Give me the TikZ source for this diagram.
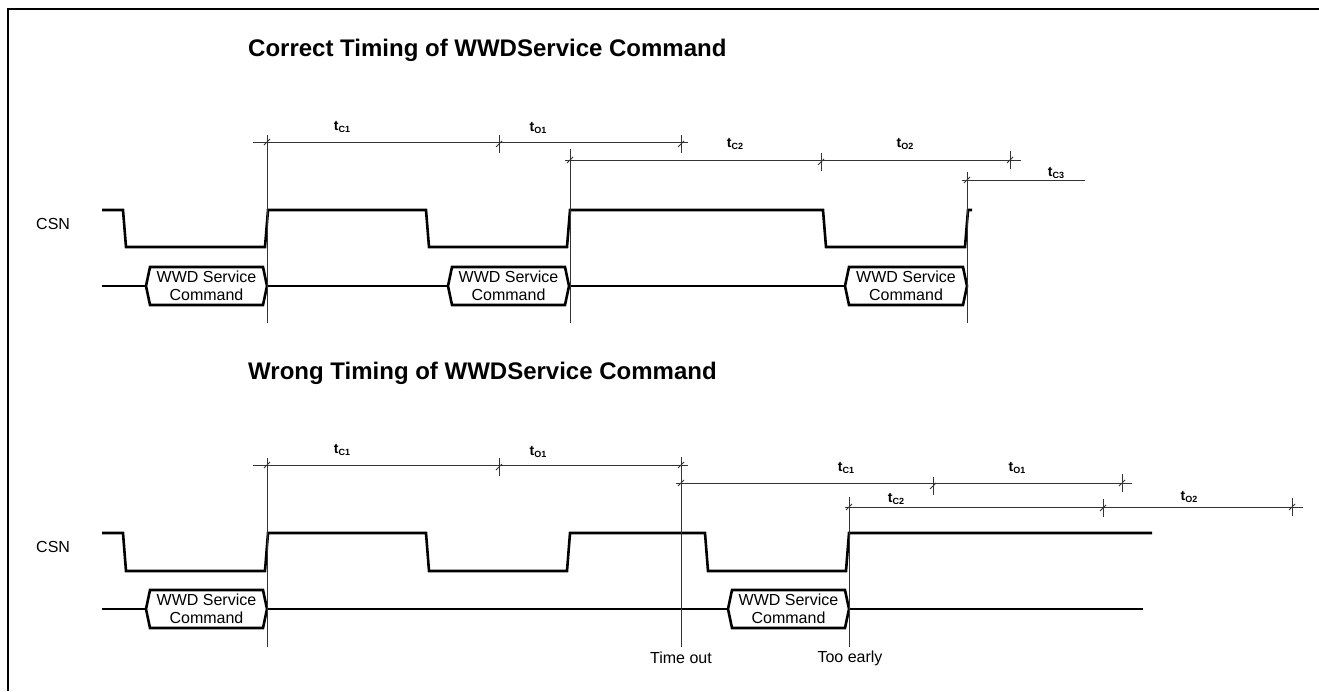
\documentclass[tikz,border=0pt]{standalone}
\usepackage{fontspec}
\setmainfont{Liberation Sans}
\newcommand\tlab[1]{t\raisebox{-0.3ex}{\fontsize{9}{9}\selectfont\bfseries #1}}
\begin{document}
\begin{tikzpicture}[x=1pt,y=-1pt,
  sig/.style={line width=2.6pt,line join=miter,black},
  thin/.style={line width=0.8pt,black!80},
  frame/.style={line width=1.2pt,black},
  lab/.style={inner sep=0pt,font=\fontsize{14}{15}\selectfont\bfseries},
  txt/.style={inner sep=0pt,font=\fontsize{16}{18}\selectfont},
  ttl/.style={inner sep=0pt,anchor=west,font=\fontsize{24}{26}\selectfont\bfseries},
  boxtxt/.style={inner sep=0pt,align=center,font=\fontsize{16}{18}\selectfont},
  slashmk/.pic={\draw[thin] (-3,3) -- (3,-3);},
  vtickmk/.pic={\draw[thin] (0,-9) -- (0,9); \draw[thin] (-3,3) -- (3,-3);}
]
\useasboundingbox (0,0) rectangle (1319,691);
% frame
\draw[frame] (8,691) -- (8,9) -- (1319,9);

% ================= Correct timing =================
\node[ttl] (title1) at (248,50) {Correct Timing of WWDService Command};
\node[txt,anchor=west] (csn1) at (36,224) {CSN};

% CSN waveform
\draw[sig] (102,210) -- (123,210) -- (126,247) -- (265,247) -- (268,210) -- (426,210) -- (429,247) -- (567,247) -- (570,210) -- (823,210) -- (826,247) -- (965,247) -- (968,210) -- (972,210);

% bus with command boxes
\draw[sig] (102,286) -- (146,286);
\draw[sig] (146,286) -- (150,267) -- (263,267) -- (267,286) -- (263,305) -- (150,305) -- cycle;
\node[boxtxt] (cmd1) at (206.5,286) {WWD Service\\Command};
\draw[sig] (267,286) -- (448,286);
\draw[sig] (448,286) -- (452,267) -- (565,267) -- (569,286) -- (565,305) -- (452,305) -- cycle;
\node[boxtxt] (cmd2) at (508.5,286) {WWD Service\\Command};
\draw[sig] (569,286) -- (845,286);
\draw[sig] (845,286) -- (849,267) -- (963,267) -- (967,286) -- (963,305) -- (849,305) -- cycle;
\node[boxtxt] (cmd3) at (906,286) {WWD Service\\Command};

% vertical reference lines
\draw[thin] (267,135) -- (267,323);
\draw[thin] (570,149) -- (570,323);
\draw[thin] (967,172) -- (967,323);

% dimension lines
\draw[thin] (253,142) -- (688,142);
\pic at (267,142) {slashmk};
\pic at (499,144) {vtickmk};
\pic at (681,144) {vtickmk};
\draw[thin] (565,160) -- (1021,160);
\pic at (570,160) {slashmk};
\pic at (821,162) {vtickmk};
\pic at (1010,160) {vtickmk};
\draw[thin] (962,180) -- (1085,180);
\pic at (967,180) {slashmk};

\node[lab] (tc1a) at (342,127) {\tlab{C1}};
\node[lab] (to1a) at (538,128) {\tlab{O1}};
\node[lab] (tc2a) at (735,144) {\tlab{C2}};
\node[lab] (to2a) at (905,144) {\tlab{O2}};
\node[lab] (tc3a) at (1056,173) {\tlab{C3}};

% ================= Wrong timing =================
\node[ttl] (title2) at (248,373) {Wrong Timing of WWDService Command};
\node[txt,anchor=west] (csn2) at (36,547) {CSN};

\draw[sig] (102,533) -- (123,533) -- (126,571) -- (265,571) -- (268,533) -- (426,533) -- (429,571) -- (567,571) -- (570,533) -- (705,533) -- (708,571) -- (846,571) -- (849,533) -- (1152,533);

\draw[sig] (102,609) -- (146,609);
\draw[sig] (146,609) -- (150,590) -- (263,590) -- (267,609) -- (263,628) -- (150,628) -- cycle;
\node[boxtxt] (cmd4) at (206.5,609) {WWD Service\\Command};
\draw[sig] (267,609) -- (728,609);
\draw[sig] (728,609) -- (732,590) -- (845,590) -- (849,609) -- (845,628) -- (732,628) -- cycle;
\node[boxtxt] (cmd5) at (788.5,609) {WWD Service\\Command};
\draw[sig] (849,609) -- (1143,609);

\draw[thin] (267,458) -- (267,647);
\draw[thin] (681,457) -- (681,647);
\draw[thin] (849,497) -- (849,647);

\draw[thin] (253,465) -- (688,465);
\pic at (267,465) {slashmk};
\pic at (499,467) {vtickmk};
\pic at (681,465) {slashmk};
\draw[thin] (676,483) -- (1132,483);
\pic at (681,483) {slashmk};
\pic at (933,486) {vtickmk};
\pic at (1122,483) {vtickmk};
\draw[thin] (845,507) -- (1303,507);
\pic at (849,507) {slashmk};
\pic at (1103,508) {vtickmk};
\pic at (1292,507) {vtickmk};

\node[lab] (tc1b) at (342,450) {\tlab{C1}};
\node[lab] (to1b) at (538,452) {\tlab{O1}};
\node[lab] (tc1c) at (846,468) {\tlab{C1}};
\node[lab] (to1c) at (1017,468) {\tlab{O1}};
\node[lab] (tc2b) at (896,499) {\tlab{C2}};
\node[lab] (to2b) at (1189,497) {\tlab{O2}};

\node[txt] (timeout) at (681,658) {Time out};
\node[txt] (tooearly) at (850,658) {Too early};
\end{tikzpicture}
\end{document}
